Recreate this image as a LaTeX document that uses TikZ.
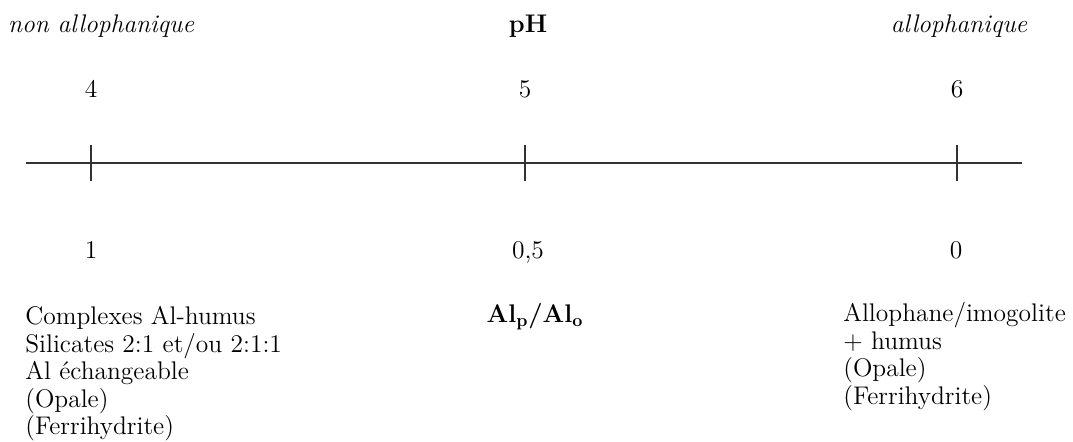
\documentclass[tikz,border=0pt]{standalone}
\usepackage{tikz}
\usetikzlibrary{positioning}

\begin{document}
\begin{tikzpicture}[x=0.02cm, y=-0.02cm,
    every node/.style={inner sep=0pt, font=\fontsize{14.5}{15.7}\selectfont},
    endlab/.style={anchor=base, font=\fontsize{14.5}{15.7}\selectfont\itshape},
    numlab/.style={anchor=base},
    desc/.style={anchor=north west, align=left},
    axis/.style={line width=1.3pt, black!80}
  ]
    \useasboundingbox (0,0) rectangle (1073,442);
    % Titles
    \node[endlab] (nonallo) at (101,33) {non allophanique};
    \node[numlab, font=\fontsize{14.5}{15.7}\selectfont\bfseries] (ph) at (528,33) {pH};
    \node[endlab] (allo) at (959,33) {allophanique};
    % pH values
    \node[numlab] (ph4) at (91,98) {4};
    \node[numlab] (ph5) at (525,98) {5};
    \node[numlab] (ph6) at (957,98) {6};
    % Axis
    \coordinate (start) at (26,163);
    \coordinate (stop) at (1022,163);
    \draw[axis] (start) -- (stop);
    \foreach \n/\x in {a/91, b/525, c/957} {
      \coordinate (\n top) at (\x,145);
      \coordinate (\n bot) at (\x,181);
      \draw[axis] (\n top) -- (\n bot);
    }
    % Ratio values
    \node[numlab] (r1) at (91,259) {1};
    \node[numlab] (r05) at (528,259) {0,5};
    \node[numlab] (r0) at (956,259) {0};
    % Descriptions
    \node[desc] (left) at (25,306)
      {Complexes Al-humus\\Silicates 2:1 et/ou 2:1:1\\Al échangeable\\(Opale)\\(Ferrihydrite)};
    \node[numlab, font=\fontsize{14.5}{15.7}\selectfont\bfseries] (ratio) at (535,323)
      {Al$_\mathbf{p}$/Al$_\mathbf{o}$};
    \node[desc] (right) at (843,302)
      {Allophane/imogolite\\+ humus\\(Opale)\\(Ferrihydrite)};
  \end{tikzpicture}
\end{document}
